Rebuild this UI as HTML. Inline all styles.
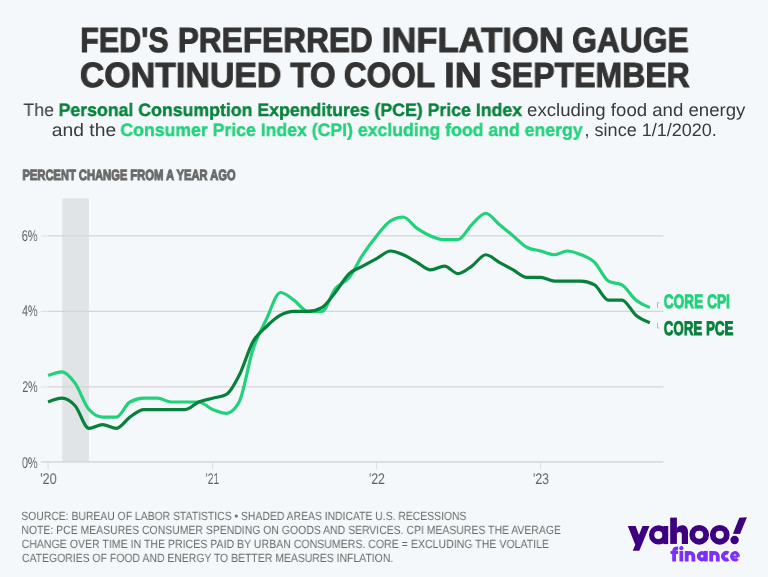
<!DOCTYPE html>
<html><head><meta charset="utf-8"><title>chart</title>
<style>
html,body{margin:0;padding:0;}
body{width:768px;height:577px;background:#f5f8fa;position:relative;overflow:hidden;font-family:"Liberation Sans",sans-serif;}
.t{position:absolute;white-space:pre;transform-origin:0 0;display:block;will-change:transform;text-rendering:geometricPrecision;}
svg{position:absolute;left:0;top:0;}
</style></head><body>
<svg width="768" height="577" viewBox="0 0 768 577">
<rect x="62.25" y="198.4" width="26.65" height="264" fill="#e1e4e6"/>
<line x1="40.8" x2="663.5" y1="461.9" y2="461.9" stroke="#dbdbdb" stroke-width="1.9"/>
<line x1="40.8" x2="48.1" y1="386.90" y2="386.90" stroke="#e0e2e4" stroke-width="1.1"/>
<line x1="48.1" x2="663.5" y1="386.90" y2="386.90" stroke="#d5d5d5" stroke-width="1.15"/>
<line x1="40.8" x2="48.1" y1="311.40" y2="311.40" stroke="#e0e2e4" stroke-width="1.1"/>
<line x1="48.1" x2="663.5" y1="311.40" y2="311.40" stroke="#d5d5d5" stroke-width="1.15"/>
<line x1="40.8" x2="48.1" y1="235.90" y2="235.90" stroke="#e0e2e4" stroke-width="1.1"/>
<line x1="48.1" x2="663.5" y1="235.90" y2="235.90" stroke="#d5d5d5" stroke-width="1.15"/>
<line x1="48.10" x2="48.10" y1="462.40" y2="469.40" stroke="#dcdcdc" stroke-width="1.1"/>
<line x1="212.58" x2="212.58" y1="462.40" y2="469.40" stroke="#dcdcdc" stroke-width="1.1"/>
<line x1="376.61" x2="376.61" y1="462.40" y2="469.40" stroke="#dcdcdc" stroke-width="1.1"/>
<line x1="540.64" x2="540.64" y1="462.40" y2="469.40" stroke="#dcdcdc" stroke-width="1.1"/>
<path d="M48.10,375.57C52.74,373.69 57.39,371.80 62.03,371.80C66.38,371.80 70.72,377.19 75.06,383.12C79.71,389.47 84.35,404.35 89.00,409.55C93.49,414.58 97.98,417.10 102.48,417.10C107.12,417.10 111.77,417.10 116.41,417.10C120.90,417.10 125.40,404.44 129.89,402.00C134.53,399.48 139.18,398.22 143.82,398.22C148.47,398.22 153.11,398.22 157.75,398.22C162.25,398.22 166.74,402.00 171.24,402.00C175.88,402.00 180.52,402.00 185.17,402.00C189.66,402.00 194.16,402.00 198.65,402.00C203.29,402.00 207.94,407.66 212.58,409.55C217.22,411.44 221.87,413.32 226.51,413.32C230.71,413.32 234.90,409.55 239.09,402.00C243.74,393.64 248.38,363.10 253.03,349.15C257.52,335.65 262.01,328.26 266.51,318.95C271.15,309.33 275.80,292.52 280.44,292.52C284.93,292.52 289.43,297.00 293.92,300.07C298.57,303.25 303.21,311.40 307.85,311.40C312.50,311.40 317.14,311.40 321.78,311.40C326.28,311.40 330.77,294.38 335.27,288.75C339.91,282.93 344.55,283.25 349.20,277.42C353.69,271.79 358.19,261.61 362.68,254.77C367.32,247.72 371.97,241.56 376.61,235.90C381.26,230.24 385.90,223.59 390.54,220.80C394.74,218.28 398.93,217.02 403.13,217.02C407.77,217.02 412.41,225.17 417.06,228.35C421.55,231.43 426.05,234.02 430.54,235.90C435.18,237.84 439.83,239.67 444.47,239.67C448.96,239.67 453.46,239.67 457.95,239.67C462.60,239.67 467.24,228.98 471.88,224.57C476.53,220.17 481.17,213.25 485.82,213.25C490.31,213.25 494.80,220.86 499.30,224.57C503.94,228.41 508.59,232.06 513.23,235.90C517.72,239.62 522.22,244.79 526.71,247.22C531.35,249.74 536.00,249.74 540.64,251.00C545.29,252.26 549.93,254.77 554.57,254.77C558.77,254.77 562.96,251.00 567.16,251.00C571.80,251.00 576.44,252.83 581.09,254.77C585.58,256.65 590.08,258.05 594.57,262.32C599.21,266.74 603.86,278.60 608.50,281.20C613.00,283.72 617.49,282.46 621.98,284.97C626.63,287.58 631.27,296.30 635.92,300.07C640.56,303.85 645.20,305.74 649.85,307.62" fill="none" stroke="#22d17b" stroke-width="3.2" stroke-linejoin="round" stroke-linecap="butt"/>
<path d="M48.10,402.00C52.74,400.11 57.39,398.22 62.03,398.22C66.38,398.22 70.72,401.06 75.06,405.77C79.71,410.81 84.35,428.42 89.00,428.42C93.49,428.42 97.98,424.65 102.48,424.65C107.12,424.65 111.77,428.42 116.41,428.42C120.90,428.42 125.40,420.22 129.89,417.10C134.53,413.88 139.18,409.55 143.82,409.55C148.47,409.55 153.11,409.55 157.75,409.55C162.25,409.55 166.74,409.55 171.24,409.55C175.88,409.55 180.52,409.55 185.17,409.55C189.66,409.55 194.16,403.88 198.65,402.00C203.29,400.06 207.94,399.48 212.58,398.22C217.22,396.97 221.87,396.97 226.51,394.45C230.71,392.18 234.90,383.74 239.09,375.57C243.74,366.54 248.38,349.81 253.03,341.60C257.52,333.65 262.01,330.85 266.51,326.50C271.15,322.00 275.80,317.69 280.44,315.17C284.93,312.74 289.43,311.40 293.92,311.40C298.57,311.40 303.21,311.40 307.85,311.40C312.50,311.40 317.14,310.14 321.78,307.62C326.28,305.19 330.77,298.08 335.27,292.52C339.91,286.79 344.55,278.07 349.20,273.65C353.69,269.38 358.19,268.58 362.68,266.10C367.32,263.54 371.97,261.07 376.61,258.55C381.26,256.03 385.90,251.00 390.54,251.00C394.74,251.00 398.93,253.04 403.13,254.77C407.77,256.70 412.41,259.77 417.06,262.32C421.55,264.80 426.05,269.88 430.54,269.88C435.18,269.88 439.83,266.10 444.47,266.10C448.96,266.10 453.46,273.65 457.95,273.65C462.60,273.65 467.24,269.25 471.88,266.10C476.53,262.95 481.17,254.77 485.82,254.77C490.31,254.77 494.80,259.85 499.30,262.32C503.94,264.88 508.59,267.32 513.23,269.88C517.72,272.35 522.22,277.42 526.71,277.42C531.35,277.42 536.00,277.42 540.64,277.42C545.29,277.42 549.93,281.20 554.57,281.20C558.77,281.20 562.96,281.20 567.16,281.20C571.80,281.20 576.44,281.20 581.09,281.20C585.58,281.20 590.08,282.46 594.57,284.97C599.21,287.58 603.86,300.07 608.50,300.07C613.00,300.07 617.49,300.07 621.98,300.07C626.63,300.07 631.27,311.40 635.92,315.17C640.56,318.95 645.20,320.84 649.85,322.72" fill="none" stroke="#07803c" stroke-width="3.2" stroke-linejoin="round" stroke-linecap="butt"/>
<path d="M657.5,308 V302.7 H659.5" fill="none" stroke="#b8b8b8" stroke-width="1"/>
<path d="M657.5,322.6 V328 H659.5" fill="none" stroke="#b8b8b8" stroke-width="1"/>
<g fill="#3c0081">
<polygon points="627.8,526 635.65,526 638.93,535.1 642.57,526 649.5,526 639.3,550.8 632.74,550.8 635.25,544.66"/>
<path fill-rule="evenodd" d="M658.6,525.3 A9.6,9.6 0 1 0 658.6,544.5 A9.6,9.6 0 1 0 658.6,525.3 Z M658.3,530.9 A4,4 0 1 1 658.3,538.9 A4,4 0 1 1 658.3,530.9 Z"/>
<rect x="663.3" y="526" width="4.9" height="18.1"/>
<rect x="670.2" y="517.6" width="6.7" height="26.3"/>
<path d="M676.9,528 C678,526.3 680,525.3 682.3,525.3 C685.8,525.3 688,527.8 688,531.8 L688,543.9 L681.8,543.9 L681.8,534.3 C681.8,532.9 680.8,532 679.4,532 C677.9,532 676.9,533 676.9,534.5 Z"/>
<polygon points="739.3,517.65 746.95,517.3 740,533.9 732.9,533.7"/>
<circle cx="734.6" cy="540" r="4.2"/>
</g>
<g fill="none" stroke="#3c0081" stroke-width="5.8">
<circle cx="699.2" cy="534.8" r="6.95"/>
<circle cx="719.8" cy="534.8" r="6.95"/>
</g>
<g fill="none" stroke="#7c2efc" stroke-width="3.8" stroke-linecap="butt">
<path d="M674.1,561.4 V551.4 Q674.1,548.4 677.1,548.4 H678.1"/>
<path d="M670.5,552.5 H678.1" stroke-width="3.1"/>
<path d="M681.35,550.9 V561.4"/>
<path d="M686.7,550.9 V561.4 M686.7,556.15 A3.325,3.35 0 0 1 693.35,556.15 V561.4"/>
<circle cx="702.05" cy="556.15" r="3.35"/>
<path d="M705.85,550.9 V561.4"/>
<path d="M711.2,550.9 V561.4 M711.2,556.15 A3.3,3.35 0 0 1 717.8,556.15 V561.4"/>
<path d="M728.27,553.41 A3.35,3.35 0 1 0 728.27,558.89"/>
<path d="M732,556.6 H738.3" stroke-width="2.2"/>
<path d="M738.3,556.6 A3.3,3.65 0 1 0 737.5,558.7" stroke-width="3.2"/>
</g>
<circle cx="681.35" cy="548.15" r="2.1" fill="#7c2efc"/>

</svg>
<span class="t" style="left:80px;top:21px;font-size:35px;line-height:39px;font-weight:bold;color:#333333;transform:translateX(0.17px) scaleX(0.8710);-webkit-text-stroke:1px #333333;">FED'S</span>
<span class="t" style="left:177px;top:21px;font-size:35px;line-height:39px;font-weight:bold;color:#333333;transform:translateX(0.77px) scaleX(0.9035);-webkit-text-stroke:1px #333333;">PREFERRED</span>
<span class="t" style="left:381px;top:21px;font-size:35px;line-height:39px;font-weight:bold;color:#333333;transform:translateX(0.65px) scaleX(0.9904);-webkit-text-stroke:1px #333333;">INFLATION</span>
<span class="t" style="left:572px;top:21px;font-size:35px;line-height:39px;font-weight:bold;color:#333333;transform:translateX(0.12px) scaleX(0.9084);-webkit-text-stroke:1px #333333;">GAUGE</span>
<span class="t" style="left:79px;top:56px;font-size:35px;line-height:39px;font-weight:bold;color:#333333;transform:translateX(0.85px) scaleX(0.9685);-webkit-text-stroke:1px #333333;">CONTINUED</span>
<span class="t" style="left:290px;top:56px;font-size:35px;line-height:39px;font-weight:bold;color:#333333;transform:translateX(0.31px) scaleX(0.9447);-webkit-text-stroke:1px #333333;">TO</span>
<span class="t" style="left:343px;top:56px;font-size:35px;line-height:39px;font-weight:bold;color:#333333;transform:translateX(0.87px) scaleX(0.9024);-webkit-text-stroke:1px #333333;">COOL</span>
<span class="t" style="left:444px;top:56px;font-size:35px;line-height:39px;font-weight:bold;color:#333333;transform:translateX(0.29px) scaleX(1.0672);-webkit-text-stroke:1px #333333;">IN</span>
<span class="t" style="left:490px;top:56px;font-size:35px;line-height:39px;font-weight:bold;color:#333333;transform:translateX(0.46px) scaleX(0.9150);-webkit-text-stroke:1px #333333;">SEPTEMBER</span>
<span class="t" style="left:23px;top:100px;font-size:18px;line-height:20px;font-weight:normal;color:#3a3a3a;transform:translateX(0.35px) scaleX(0.9905);">The</span>
<span class="t" style="left:58px;top:100px;font-size:18px;line-height:20px;font-weight:bold;color:#07803c;transform:translateX(0.56px) scaleX(0.9841);-webkit-text-stroke:0.4px #07803c;">Personal Consumption Expenditures (PCE) Price Index</span>
<span class="t" style="left:527px;top:100px;font-size:18px;line-height:20px;font-weight:normal;color:#3a3a3a;transform:translateX(0.04px) scaleX(1.0341);">excluding food and energy</span>
<span class="t" style="left:51px;top:120px;font-size:18px;line-height:20px;font-weight:normal;color:#3a3a3a;transform:translateX(0.85px) scaleX(1.0700);">and the</span>
<span class="t" style="left:120px;top:120px;font-size:18px;line-height:20px;font-weight:bold;color:#22d17b;transform:translateX(0.39px) scaleX(0.9813);-webkit-text-stroke:0.4px #22d17b;">Consumer Price Index (CPI) excluding food and energy</span>
<span class="t" style="left:584px;top:120px;font-size:18px;line-height:20px;font-weight:normal;color:#3a3a3a;transform:translateX(0.59px) scaleX(1.0008);">, since 1/1/2020.</span>
<span class="t" style="left:22px;top:168px;font-size:14.8px;line-height:16px;font-weight:bold;color:#6b6b6b;transform:translateX(0.46px) scaleX(0.7546);-webkit-text-stroke:1.1px #6b6b6b;">PERCENT CHANGE FROM A YEAR AGO</span>
<span class="t" style="left:21px;top:228px;font-size:15.5px;line-height:17px;font-weight:normal;color:#606060;transform:translateX(0.69px) scaleX(0.7103);">6%</span>
<span class="t" style="left:22px;top:303px;font-size:15.5px;line-height:17px;font-weight:normal;color:#606060;transform:translateX(0.03px) scaleX(0.6949);">4%</span>
<span class="t" style="left:22px;top:379px;font-size:15.5px;line-height:17px;font-weight:normal;color:#606060;transform:translateX(0.30px) scaleX(0.6826);">2%</span>
<span class="t" style="left:21px;top:455px;font-size:15.5px;line-height:17px;font-weight:normal;color:#606060;transform:translateX(0.96px) scaleX(0.6976);">0%</span>
<span class="t" style="left:40px;top:471px;font-size:15.5px;line-height:17px;font-weight:normal;color:#606060;transform:translateX(0.13px) scaleX(0.8179);">'20</span>
<span class="t" style="left:205px;top:471px;font-size:15.5px;line-height:17px;font-weight:normal;color:#606060;transform:translateX(0.72px) scaleX(0.6714);">'21</span>
<span class="t" style="left:368px;top:471px;font-size:15.5px;line-height:17px;font-weight:normal;color:#606060;transform:translateX(0.97px) scaleX(0.7868);">'22</span>
<span class="t" style="left:532px;top:471px;font-size:15.5px;line-height:17px;font-weight:normal;color:#606060;transform:translateX(0.90px) scaleX(0.8018);">'23</span>
<span class="t" style="left:663px;top:291px;font-size:19.4px;line-height:22px;font-weight:bold;color:#22d17b;transform:translateX(0.71px) scaleX(0.7060);-webkit-text-stroke:1px #22d17b;">CORE CPI</span>
<span class="t" style="left:663px;top:318px;font-size:19.8px;line-height:22px;font-weight:bold;color:#07803c;transform:translateX(0.75px) scaleX(0.6743);-webkit-text-stroke:1px #07803c;">CORE PCE</span>
<span class="t" style="left:21px;top:509px;font-size:12px;line-height:14px;font-weight:normal;color:#6a6a6a;transform:translateX(0.30px) scaleX(0.8655);">SOURCE: BUREAU OF LABOR STATISTICS • SHADED AREAS INDICATE U.S. RECESSIONS</span>
<span class="t" style="left:21px;top:523px;font-size:12px;line-height:14px;font-weight:normal;color:#6a6a6a;transform:translateX(0.36px) scaleX(0.8702);">NOTE: PCE MEASURES CONSUMER SPENDING ON GOODS AND SERVICES. CPI MEASURES THE AVERAGE</span>
<span class="t" style="left:21px;top:537px;font-size:12px;line-height:14px;font-weight:normal;color:#6a6a6a;transform:translateX(0.59px) scaleX(0.8803);">CHANGE OVER TIME IN THE PRICES PAID BY URBAN CONSUMERS. CORE = EXCLUDING THE VOLATILE</span>
<span class="t" style="left:21px;top:551px;font-size:12px;line-height:14px;font-weight:normal;color:#6a6a6a;transform:translateX(0.94px) scaleX(0.8697);">CATEGORIES OF FOOD AND ENERGY TO BETTER MEASURES INFLATION.</span>
</body></html>
